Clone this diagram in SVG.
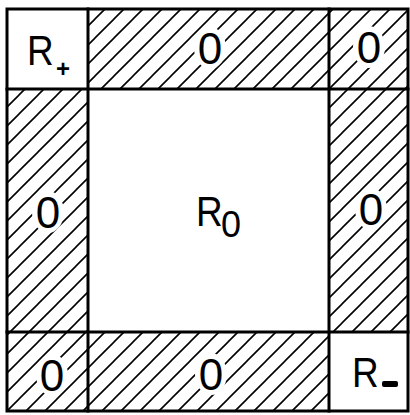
<svg xmlns="http://www.w3.org/2000/svg" width="410" height="415" viewBox="0 0 410 415">
<style>
.cell{stroke:none}
.hatch{fill:url(#h)}
.plain{fill:#fff}
.grid{stroke:#000;stroke-width:3;fill:none;stroke-linecap:square}
.lbl{font-family:"Liberation Sans",Arial,sans-serif;fill:#000}
.big{font-size:44px}
.gap{fill:#fff}
</style>
<defs>
<pattern id="h" patternUnits="userSpaceOnUse" width="19" height="19">
<rect width="19" height="19" fill="#fff"/>
<path d="M-2,2 L2,-2 M0,19 L19,0 M17,21 L21,17" stroke="#000" stroke-width="1.6"/>
</pattern>
</defs>
<rect width="410" height="415" fill="#fff"/>
<g id="cell-top-left"><rect class="cell plain" x="7" y="9" width="81" height="80"/><text class="lbl" x="27" y="65" font-size="42" transform="translate(27 0) scale(0.88 1) translate(-27 0)">R</text><text class="lbl" x="56" y="77" font-size="24" font-weight="bold">+</text></g>
<g id="cell-top-mid"><rect class="cell hatch" x="88" y="9" width="241" height="80"/><ellipse class="gap" cx="210" cy="48" rx="16" ry="21"/><text class="lbl big" x="210" y="64" text-anchor="middle">0</text></g>
<g id="cell-top-right"><rect class="cell hatch" x="329" y="9" width="79" height="80"/><ellipse class="gap" cx="369" cy="47" rx="16" ry="21"/><text class="lbl big" x="369" y="63" text-anchor="middle">0</text></g>
<g id="cell-mid-left"><rect class="cell hatch" x="7" y="89" width="81" height="243"/><ellipse class="gap" cx="48" cy="212" rx="16" ry="21"/><text class="lbl big" x="48" y="228" text-anchor="middle">0</text></g>
<g id="cell-center"><rect class="cell plain" x="88" y="89" width="241" height="243"/><text class="lbl" x="196" y="226" font-size="42" transform="translate(196 0) scale(0.88 1) translate(-196 0)">R</text><text class="lbl" x="221" y="237" font-size="36">0</text></g>
<g id="cell-mid-right"><rect class="cell hatch" x="329" y="89" width="79" height="243"/><ellipse class="gap" cx="371" cy="209" rx="16" ry="21"/><text class="lbl big" x="371" y="225" text-anchor="middle">0</text></g>
<g id="cell-bottom-left"><rect class="cell hatch" x="7" y="332" width="81" height="79"/><ellipse class="gap" cx="52" cy="375" rx="16" ry="21"/><text class="lbl big" x="52" y="391" text-anchor="middle">0</text></g>
<g id="cell-bottom-mid"><rect class="cell hatch" x="88" y="332" width="241" height="79"/><ellipse class="gap" cx="211" cy="374" rx="16" ry="21"/><text class="lbl big" x="211" y="390" text-anchor="middle">0</text></g>
<g id="cell-bottom-right"><rect class="cell plain" x="329" y="332" width="79" height="79"/><text class="lbl" x="352" y="387" font-size="42" transform="translate(352 0) scale(0.88 1) translate(-352 0)">R</text><rect x="382" y="381" width="16" height="6" rx="2" fill="#000"/></g>
<g id="connectors">
<rect class="grid" x="7" y="9" width="401" height="402"/>
<line class="grid" x1="88" y1="9" x2="88" y2="411"/>
<line class="grid" x1="329" y1="9" x2="329" y2="411"/>
<line class="grid" x1="7" y1="89" x2="408" y2="89"/>
<line class="grid" x1="7" y1="332" x2="408" y2="332"/>
</g>
</svg>
